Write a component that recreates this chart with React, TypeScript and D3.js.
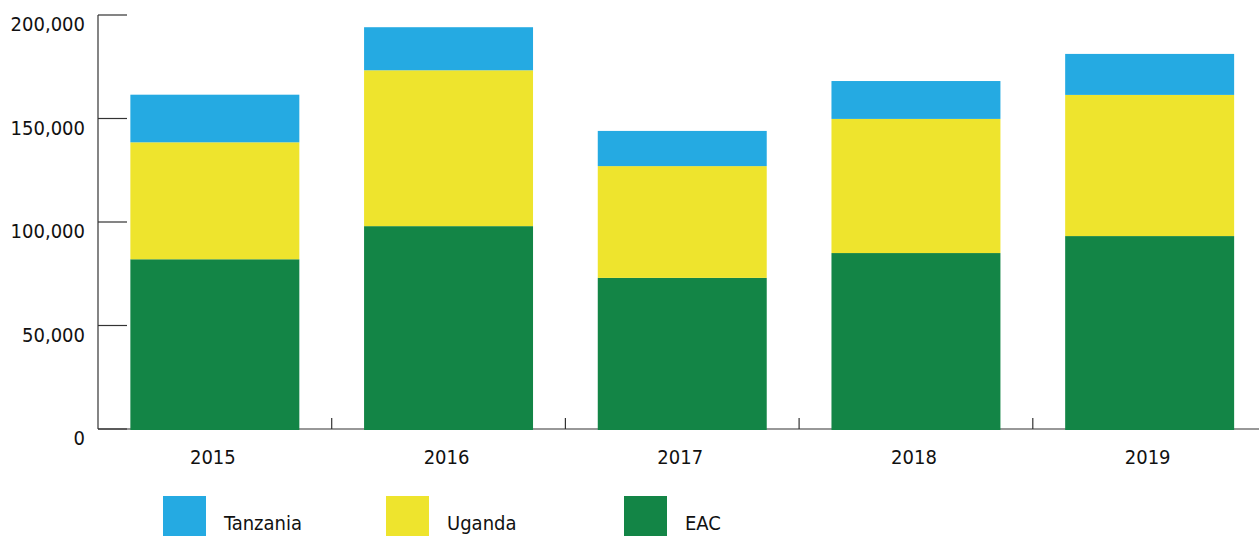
import * as d3 from 'd3';

const years = ['2015', '2016', '2017', '2018', '2019'];
const eac = [82000, 98000, 73000, 85000, 93200];
const uganda = [56500, 75300, 54000, 64800, 68200];
const tanzania = [23000, 20800, 17000, 18300, 19800];
const yTicks = [0, 50000, 100000, 150000, 200000];

const seriesKeys = ['EAC', 'Uganda', 'Tanzania'];
const colors: Record<string, string> = {
  EAC: '#138546',
  Uganda: '#eee42d',
  Tanzania: '#25aae2',
};
const legendOrder = ['Tanzania', 'Uganda', 'EAC'];

const font = "'DejaVu Sans Condensed', 'DejaVu Sans', Verdana, sans-serif";

export default function App() {
  const width = 1259;
  const height = 536;

  const rows = years.map((y, i) => ({
    year: y,
    EAC: eac[i],
    Uganda: uganda[i],
    Tanzania: tanzania[i],
  }));

  const stacked = d3.stack<any>().keys(seriesKeys)(rows);

  const x = d3.scaleBand<string>()
    .domain(years)
    .range([98, 1266.5])
    .paddingInner(0.277)
    .paddingOuter(0.1385);

  const y = d3.scaleLinear().domain([0, 200000]).range([429, 15]);
  const fmt = d3.format(',');

  // tick marks between categories
  const between = years.slice(1).map(yr => (x(yr) || 0) - (x.step() - x.bandwidth()) / 2);

  const legendX = [163, 386, 624];

  return (
    <svg width={width} height={height} style={{ position: 'absolute', left: 0, top: 0 }}>
      {/* axes */}
      <g stroke="#333" strokeWidth={1.2} fill="none">
        <line x1={98} x2={98} y1={y(200000)} y2={y(0)} />
        <line x1={98} x2={1259} y1={y(0)} y2={y(0)} />
        {yTicks.map(t => (
          <line key={t} x1={98} x2={127} y1={y(t)} y2={y(t)} />
        ))}
        {between.map((bx, i) => (
          <line key={i} x1={bx} x2={bx} y1={y(0)} y2={y(0) - 11} />
        ))}
      </g>

      {/* bars */}
      {stacked.map(s => (
        <g key={s.key} fill={colors[s.key]}>
          {s.map((d, i) => (
            <rect
              key={i}
              x={x(years[i])}
              width={x.bandwidth()}
              y={y(d[1])}
              height={y(d[0]) - y(d[1]) + (d[0] === 0 ? 1 : 0)}
            />
          ))}
        </g>
      ))}

      {/* y labels */}
      {yTicks.map(t => (
        <text
          key={t}
          x={85}
          y={y(t) + 16}
          textAnchor="end"
          fontFamily={font}
          fontSize={20}
          fill="#111"
        >
          {fmt(t)}
        </text>
      ))}

      {/* x labels */}
      {years.map(yr => (
        <text
          key={yr}
          x={(x(yr) || 0) + x.bandwidth() / 2 - 2}
          y={464}
          textAnchor="middle"
          fontFamily={font}
          fontSize={20}
          fill="#111"
        >
          {yr}
        </text>
      ))}

      {/* legend */}
      {legendOrder.map((k, i) => (
        <g key={k}>
          <rect x={legendX[i]} y={496} width={43} height={40} fill={colors[k]} />
          <text
            x={legendX[i] + 61}
            y={530}
            fontFamily={font}
            fontSize={20}
            fill="#111"
          >
            {k}
          </text>
        </g>
      ))}
    </svg>
  );
}
